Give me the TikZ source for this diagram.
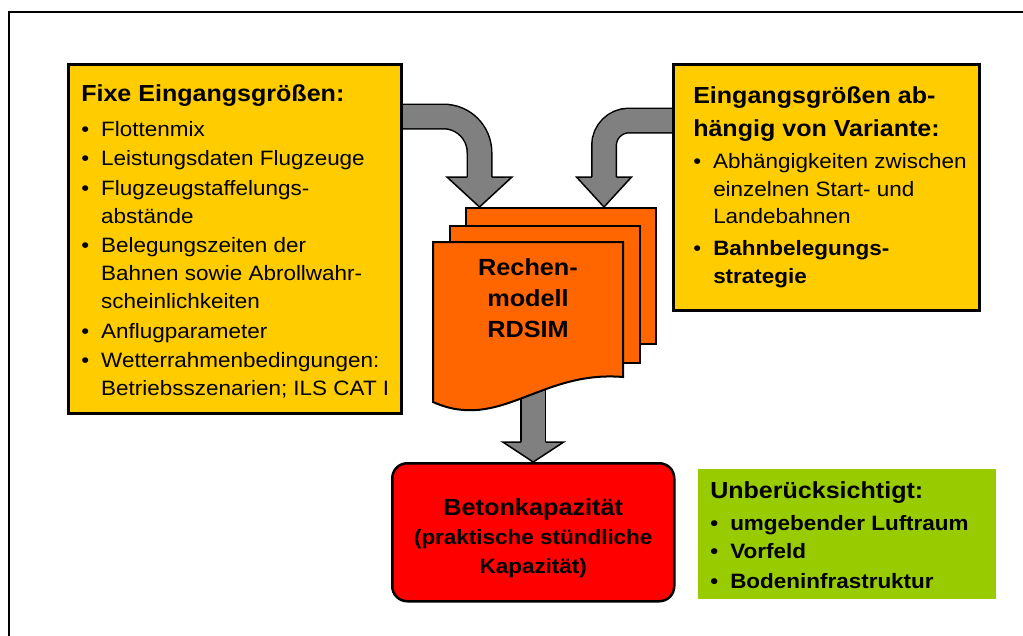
\documentclass[tikz,border=0pt]{standalone}
\usepackage{fontspec}
\setmainfont{Liberation Sans}[FakeStretch=1.08]
\usetikzlibrary{calc,backgrounds}

\definecolor{boxyellow}{HTML}{FFCC00}
\definecolor{sheetorange}{HTML}{FF6600}
\definecolor{boxred}{HTML}{FF0000}
\definecolor{boxgreen}{HTML}{99CC00}
\definecolor{arrowgray}{HTML}{808080}

\newcommand{\titlefont}{\fontsize{23.2}{28}\selectfont\bfseries}
\newcommand{\itemfont}{\fontsize{20.8}{28}\selectfont\mdseries}
\newcommand{\bul}{\makebox[20pt][l]{\textbullet}}
\newcommand{\ind}{\hspace*{20pt}}
\newcommand{\grayhead}[3]{\filldraw[head] ($(#1)+(-12.25,-#3)$) -- ($(#1)+(-#2,-#3)$) -- (#1) -- ($(#1)+(#2,-#3)$) -- ($(#1)+(12.25,-#3)$);}

\begin{document}
\begin{tikzpicture}[x=1pt,y=-1pt,
    box/.style={draw,line width=2.5pt,anchor=north west,inner sep=0pt},
    sheet/.style={draw,line width=2pt,fill=sheetorange,anchor=north west,inner sep=0pt,minimum width=190pt},
    shaft/.style={draw=black,line width=1.5pt,double=arrowgray,double distance=23pt},
    head/.style={fill=arrowgray,draw=black,line width=1.5pt,line join=miter}]

  \useasboundingbox (0,0) rectangle (1023,635);

  \node[box,fill=boxyellow] (fixe) at (67,63) {\parbox[c][349pt][t]{333pt}{\leftskip=13pt
    \titlefont\rule{0pt}{37.5pt}Fixe Eingangsgrößen:\\[6.5pt]
    \itemfont
    \bul Flottenmix\\[1.5pt]
    \bul Leistungsdaten Flugzeuge\\[1.5pt]
    \bul Flugzeugstaffelungs-\\
    \ind abstände\\[1.5pt]
    \bul Belegungszeiten der\\
    \ind Bahnen sowie Abrollwahr-\\
    \ind scheinlichkeiten\\[1.5pt]
    \bul Anflugparameter\\[1.5pt]
    \bul Wetterrahmenbedingungen:\\
    \ind Betriebsszenarien; ILS CAT I}};

  \node[box,fill=boxyellow] (variante) at (672,63) {\parbox[c][246pt][t]{306pt}{\leftskip=20pt
    \titlefont\rule{0pt}{39.5pt}Eingangsgrößen ab-\\[5pt]
    hängig von Variante:\\[3.5pt]
    \itemfont
    \bul Abhängigkeiten zwischen\\
    \ind einzelnen Start- und\\[-0.5pt]
    \ind Landebahnen\\[4pt]
    \bul\textbf{Bahnbelegungs-}\\
    \ind\textbf{strategie}}};

  \node[sheet,minimum height=136pt] (sheetC) at (465,207) {};
  \node[sheet,minimum height=137pt] (sheetB) at (449,225) {};
  \filldraw[fill=sheetorange,line width=2pt] (433,242) -- (623,242) -- (623,377)
    .. controls (540,370) and (500,432) .. (433,402) -- cycle;
  \node[font=\fontsize{23.4}{31}\selectfont\bfseries,align=center,inner sep=0pt] (rdsim) at (528,298.5) {Rechen-\\modell\\RDSIM};

  \node[box,fill=boxred,rounded corners=15pt] (beton) at (391,462) {\parbox[c][138pt][t]{282pt}{\centering
    \fontsize{23.4}{29}\selectfont\bfseries\rule{0pt}{52.5pt}Betonkapazität\\
    \fontsize{20.8}{29}\selectfont
    (praktische stündliche\\
    Kapazität)}};

  \node[box,draw=none,fill=boxgreen] (ohne) at (697,468) {\parbox[c][130pt][t]{298pt}{\leftskip=12pt
    \titlefont\rule{0pt}{29.5pt}Unberücksichtigt:\\[3.5pt]
    \itemfont\bfseries
    \bul umgebender Luftraum\\
    \bul Vorfeld\\[2pt]
    \bul Bodeninfrastruktur}};

  \begin{pgfonlayer}{background}
    \draw[line width=2.5pt] (9,650) -- (9,12) -- (1040,12);
    \coordinate (lA) at ($(fixe.north east)+(0,53.5)$);
    \coordinate (lB) at ($(sheetC.north west)+(14.5,0)$);
    \coordinate (rA) at ($(variante.north west)+(0,57.5)$);
    \coordinate (rB) at ($(sheetC.north west)+(139,0)$);
    \draw[shaft,rounded corners=36pt] (lA) -| ($(lB)+(0,-30)$);
    \grayhead{lB}{32.5}{30}
    \draw[shaft,rounded corners=25pt] (rA) -| ($(rB)+(0,-30)$);
    \grayhead{rB}{27.5}{30}
    \draw[shaft] (beton.north |- rdsim.center) -- ($(beton.north)+(0,-20)$);
    \grayhead{beton.north}{30.5}{20}
  \end{pgfonlayer}
\end{tikzpicture}
\end{document}
